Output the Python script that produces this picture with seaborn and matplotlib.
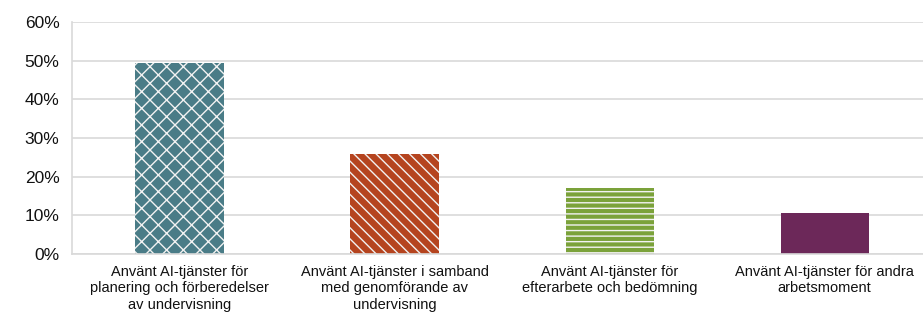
import matplotlib
matplotlib.use("Agg")
import matplotlib.pyplot as plt
import seaborn as sns
import pandas as pd

# -----------------------------
# Data
# -----------------------------
categories = [
    "Använt AI-tjänster för\nplanering och förberedelser\nav undervisning",
    "Använt AI-tjänster i samband\nmed genomförande av\nundervisning",
    "Använt AI-tjänster för\nefterarbete och bedömning",
    "Använt AI-tjänster för andra\narbetsmoment",
]
shares = [49.5, 25.8, 17.2, 10.6]
colors = ["#4A7C87", "#B5441F", "#7BA23A", "#6C2859"]
hatches = ["xx", "\\\\\\", "---", ""]
yticks = [0, 10, 20, 30, 40, 50, 60]

df = pd.DataFrame({"category": categories, "share": shares})

sns.set_style("white")
plt.rcParams['font.family'] = ['Liberation Sans', 'DejaVu Sans']
plt.rcParams['hatch.linewidth'] = 1.0

fig = plt.figure(figsize=(9.23, 3.14), dpi=100)
ax = fig.add_axes([0.078, 0.191, 0.932, 0.739])

sns.barplot(data=df, x="category", y="share", hue="category",
            palette=colors, width=0.41, saturation=1, legend=False, ax=ax)

for patch, h in zip(ax.patches, hatches):
    patch.set_hatch(h)
    patch.set_edgecolor("#F2F2F2")
    patch.set_linewidth(0)

ax.set_ylim(0, 60)
ax.set_xlim(-0.5, 3.5)
ax.set_yticks(yticks)
ax.set_yticklabels([f"{v}%" for v in yticks], fontsize=12.5, color="#111111")
ax.tick_params(axis="x", length=0, labelsize=10.5, colors="#111111", pad=8)
for lbl in ax.get_xticklabels():
    lbl.set_linespacing(1.2)
ax.tick_params(axis="y", length=5, color="#D9D9D9", width=1, pad=4)
ax.set_xlabel("")
ax.set_ylabel("")
ax.yaxis.grid(True, color="#D9D9D9", linewidth=1.2)
ax.set_axisbelow(True)
for side in ["top", "right"]:
    ax.spines[side].set_visible(False)
for side in ["left", "bottom"]:
    ax.spines[side].set_color("#D9D9D9")
    ax.spines[side].set_linewidth(1.2)

fig.savefig("out.png", dpi=100)
